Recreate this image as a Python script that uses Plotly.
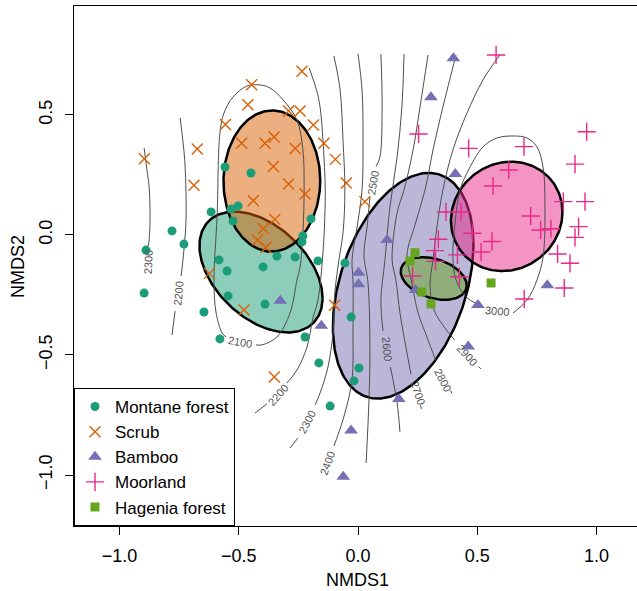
import numpy as np
import plotly.graph_objects as go

# ---------------- site scores (NMDS1, NMDS2) ----------------
montane_x = [-0.558, -0.449, -0.616, -0.532, -0.503, -0.524, -0.780, -0.730, -0.889, -0.897,
             -0.197, -0.231, -0.235, -0.340, -0.264, -0.168, -0.398, -0.583, -0.549, -0.055,
             -0.545, -0.390, -0.646, -0.029, -0.579, -0.222, -0.164, -0.117, 0.004, -0.017]
montane_y = [0.283, 0.258, 0.096, 0.108, 0.121, 0.058, 0.017, -0.038, -0.063, -0.242,
             0.067, -0.004, -0.029, -0.088, -0.092, -0.108, -0.133, -0.104, -0.150, -0.117,
             -0.254, -0.288, -0.321, -0.342, -0.433, -0.425, -0.533, -0.713, -0.554, -0.608]

scrub_x = [-0.235, -0.446, -0.462, -0.291, -0.243, -0.556, -0.187, -0.488, -0.390, -0.352,
           -0.263, -0.143, -0.674, -0.896, -0.095, -0.355, -0.688, -0.291, -0.222, -0.049,
           0.029, -0.439, -0.349, -0.397, -0.421, -0.386, -0.623, -0.478, -0.098, -0.351]
scrub_y = [0.682, 0.626, 0.543, 0.517, 0.517, 0.460, 0.458, 0.382, 0.382, 0.408,
           0.360, 0.382, 0.358, 0.318, 0.315, 0.285, 0.207, 0.2125, 0.171, 0.217,
           0.139, 0.143, 0.065, 0.027, -0.021, -0.052, -0.160, -0.3125, -0.293, -0.592]

bamboo_x = [0.400, 0.306, 0.408, 0.122, 0.002, 0.002, 0.794, -0.326, -0.154, 0.503,
            0.462, 0.171, -0.029, -0.062, 0.241]
bamboo_y = [0.736, 0.574, 0.254, -0.021, -0.157, -0.205, -0.209, -0.274, -0.378, -0.292,
            -0.465, -0.683, -0.815, -1.007, -0.229]

moor_x = [0.579, 0.254, 0.464, 0.696, 0.959, 0.910, 0.632, 0.566, 0.861, 0.952,
          0.369, 0.432, 0.724, 0.480, 0.766, 0.809, 0.925, 0.910, 0.562, 0.337,
          0.516, 0.322, 0.417, 0.837, 0.889, 0.325, 0.229, 0.425, 0.865, 0.697]
moor_y = [0.750, 0.421, 0.361, 0.368, 0.430, 0.295, 0.271, 0.204, 0.139, 0.139,
          0.096, 0.096, 0.079, 0.007, 0.021, 0.026, 0.035, -0.010, -0.027, -0.018,
          -0.071, -0.065, -0.083, -0.079, -0.118, -0.110, -0.171, -0.174, -0.221, -0.267]

hagenia_x = [0.239, 0.218, 0.267, 0.306, 0.558]
hagenia_y = [-0.074, -0.108, -0.2375, -0.2875, -0.200]

groups = ["Montane forest", "Scrub", "Bamboo", "Moorland", "Hagenia forest"]

# ---------------- fitted elevation surface: contour paths ----------------
c2300a_x = [-0.897, -0.885, -0.876, -0.872, -0.876, -0.880]
c2300a_y = [0.3625, 0.271, 0.200, 0.075, -0.021, -0.046]
c2200a_x = [-0.746, -0.733, -0.725, -0.721, -0.730, -0.742, None, -0.767, -0.780]
c2200a_y = [0.488, 0.380, 0.283, 0.075, -0.063, -0.171, None, -0.317, -0.417]
c2100_x = [-0.428, -0.403, -0.340, -0.285, -0.256, -0.243, -0.231, -0.226, -0.231, -0.256,
           -0.314, -0.369, -0.411, -0.465, -0.524, -0.562, -0.579, -0.591, -0.604, -0.595,
           -0.570, -0.553]
c2100_y = [-0.458, -0.458, -0.425, -0.325, -0.1875, -0.133, 0.008, 0.200, 0.354, 0.479,
           0.5625, 0.6125, 0.625, 0.621, 0.575, 0.508, 0.425, 0.075, -0.1875, -0.325,
           -0.408, -0.425]
c2200b_x = [-0.205, -0.174, -0.159, -0.147, -0.138, -0.138, -0.147, -0.168, -0.189, -0.214,
            -0.256, -0.298, None, -0.382, -0.432]
c2200b_y = [0.696, 0.604, 0.533, 0.396, 0.217, 0.117, -0.075, -0.271, -0.346, -0.467,
            -0.5625, -0.617, None, -0.704, -0.742]
c2300b_x = [-0.101, -0.075, -0.063, -0.055, -0.063, -0.080, -0.096, -0.105, -0.126, -0.159,
            -0.180, None, -0.252, -0.285]
c2300b_y = [0.746, 0.604, 0.396, 0.1875, 0.008, -0.104, -0.229, -0.408, -0.550, -0.658,
            -0.708, None, -0.846, -0.8875]
c2400_x = [0.0, 0.017, 0.021, 0.017, -0.004, -0.025, -0.021, -0.021, -0.025, -0.055, -0.084, -0.101]
c2400_y = [0.754, 0.604, 0.396, 0.1875, 0.033, -0.104, -0.1875, -0.396, -0.604, -0.742, -0.833, -0.879]
c2500_x = [0.096, 0.101, 0.092, 0.0755, None, 0.050, 0.038, 0.025, 0.042, 0.050, 0.046, 0.034]
c2500_y = [0.754, 0.533, 0.325, 0.285, None, 0.160, 0.033, -0.083, -0.200, -0.479, -0.6875, -0.950]
c2600_x = [0.193, 0.184, 0.164, 0.134, 0.113, 0.096, 0.105, None, 0.136, 0.164, 0.176]
c2600_y = [0.754, 0.533, 0.325, 0.117, -0.104, -0.271, -0.400, None, -0.550, -0.700, -0.821]
c2700_x = [0.2935, 0.260, 0.231, 0.193, 0.164, 0.143, 0.159, 0.176, 0.201, 0.222, None, 0.262, 0.266]
c2700_y = [0.750, 0.533, 0.354, 0.1875, 0.092, -0.104, -0.1875, -0.325, -0.467, -0.580, None, -0.710, -0.725]
c2800_x = [0.411, 0.356, 0.3145, 0.281, 0.239, 0.2055, 0.226, 0.252, 0.289, 0.325, None, 0.388, 0.394]
c2800_y = [0.750, 0.533, 0.354, 0.1875, 0.042, -0.083, -0.200, -0.325, -0.425, -0.520, None, -0.648, -0.660]
c2900_x = [0.595, 0.524, 0.457, 0.398, 0.356, 0.331, 0.3145, 0.302, 0.319, 0.361, 0.405, None, 0.505, 0.516]
c2900_y = [0.750, 0.646, 0.508, 0.354, 0.1875, 0.033, -0.104, -0.208, -0.3125, -0.383, -0.437, None, -0.548, -0.558]
c3000_x = [0.650, 0.709, 0.7505, 0.776, 0.784, 0.776, 0.7505, 0.709, 0.650, 0.583, 0.524,
           0.457, 0.428, 0.407, 0.398, 0.411, 0.453, 0.499]
c3000_y = [-0.325, -0.271, -0.1875, -0.092, 0.117, 0.283, 0.367, 0.404, 0.4125, 0.404, 0.367,
           0.258, 0.1875, 0.050, -0.092, -0.1875, -0.258, -0.2875]

contour_levels = [2300, 2200, 2100, 2200, 2300, 2400, 2500, 2600, 2700, 2800, 2900, 3000]
contour_paths = [(c2300a_x, c2300a_y), (c2200a_x, c2200a_y), (c2100_x, c2100_y),
                 (c2200b_x, c2200b_y), (c2300b_x, c2300b_y), (c2400_x, c2400_y),
                 (c2500_x, c2500_y), (c2600_x, c2600_y), (c2700_x, c2700_y),
                 (c2800_x, c2800_y), (c2900_x, c2900_y), (c3000_x, c3000_y)]
label_x = [-0.880, -0.755, -0.495, -0.335, -0.214, -0.128, 0.063, 0.122, 0.252, 0.356, 0.457, 0.583]
label_y = [-0.1125, -0.244, -0.446, -0.667, -0.779, -0.950, 0.217, -0.475, -0.658, -0.604, -0.500, -0.317]
label_angle = [-88, -85, 10, -48, -62, -70, -80, 85, 72, 62, 48, 5]

# ---------------- styles ----------------
cols = ["#1B9E77", "#D95F02", "#7570B3", "#E7298A", "#66A61E"]
fills = ["rgba(27,158,119,0.5)", "rgba(217,95,2,0.5)", "rgba(117,112,179,0.5)",
         "rgba(231,41,138,0.5)", "rgba(102,166,30,0.5)"]
symbols = ["circle", "x-thin-open", "triangle-up", "cross-thin-open", "square"]
sizes = [9, 11, 12, 13, 9]
FONT = "Liberation Sans, Arial, sans-serif"
CGRAY = "#4d4d4d"

gx = [montane_x, scrub_x, bamboo_x, moor_x, hagenia_x]
gy = [montane_y, scrub_y, bamboo_y, moor_y, hagenia_y]


def sd_ellipse(x, y, n=240):
    x = np.asarray(x, float)
    y = np.asarray(y, float)
    cov = np.cov(np.vstack([x, y]))
    L = np.linalg.cholesky(cov)
    t = np.linspace(0, 2 * np.pi, n)
    p = L @ np.vstack([np.cos(t), np.sin(t)])
    return x.mean() + p[0], y.mean() + p[1]


fig = go.Figure()

# ellipses (1 sd)
for i in range(5):
    ex, ey = sd_ellipse(gx[i], gy[i])
    fig.add_trace(go.Scatter(x=ex, y=ey, mode="lines", fill="toself", fillcolor=fills[i],
                             line=dict(color="black", width=2.5), hoverinfo="skip",
                             showlegend=False))

# contours
for (cx, cy), lev in zip(contour_paths, contour_levels):
    fig.add_trace(go.Scatter(x=cx, y=cy, mode="lines", line=dict(color=CGRAY, width=1,
                             shape="spline", smoothing=1.0), connectgaps=False,
                             hoverinfo="skip", showlegend=False, name=str(lev)))

# points
for i in range(5):
    if "open" in symbols[i]:
        mk = dict(symbol=symbols[i], size=sizes[i], color=cols[i], line=dict(color=cols[i], width=1.4))
    else:
        mk = dict(symbol=symbols[i], size=sizes[i], color=cols[i], line=dict(width=0))
    fig.add_trace(go.Scatter(x=gx[i], y=gy[i], mode="markers", marker=mk, name=groups[i]))

annotations = []
for lx, ly, la, lev in zip(label_x, label_y, label_angle, contour_levels):
    annotations.append(dict(x=lx, y=ly, xref="x", yref="y", text=str(lev), showarrow=False,
                            textangle=la, font=dict(family=FONT, size=11, color="#555555"),
                            xanchor="center", yanchor="middle"))
annotations.append(dict(x=-0.004, y=-0.104, xref="x", yref="paper", text="NMDS1", showarrow=False,
                        font=dict(family=FONT, size=18, color="black"), xanchor="center", yanchor="middle"))
annotations.append(dict(x=-0.0995, y=-0.129, xref="paper", yref="y", text="NMDS2", showarrow=False,
                        textangle=-90, font=dict(family=FONT, size=18, color="black"),
                        xanchor="center", yanchor="middle"))

xt = [-1.0, -0.5, 0.0, 0.5, 1.0]
yt = [-1.0, -0.5, 0.0, 0.5]

fig.update_layout(
    width=637, height=591,
    margin=dict(l=74, r=0, t=6, b=65),
    paper_bgcolor="white", plot_bgcolor="white",
    font=dict(family=FONT, color="black"),
    showlegend=True,
    legend=dict(x=0, y=0, xanchor="left", yanchor="bottom", bgcolor="white",
                bordercolor="black", borderwidth=1, font=dict(family=FONT, size=17),
                tracegroupgap=0, itemwidth=30),
    annotations=annotations,
    xaxis=dict(range=[-1.191, 1.170], showgrid=False, zeroline=False, showline=True,
               linecolor="black", linewidth=1.2, mirror=True, ticks="outside", ticklen=8,
               tickwidth=1, tickcolor="black", tickvals=xt,
               ticktext=["\u22121.0", "\u22120.5", "0.0", "0.5", "1.0"],
               tickfont=dict(family=FONT, size=18), ticklabelstandoff=5),
    yaxis=dict(range=[-1.2125, 0.954], showgrid=False, zeroline=False, showline=True,
               linecolor="black", linewidth=1.2, mirror=False, ticks="outside", ticklen=8,
               tickwidth=1, tickcolor="black", tickvals=yt,
               ticktext=["\u22121.0", "\u22120.5", "0.0", "0.5"], tickangle=-90,
               tickfont=dict(family=FONT, size=18), ticklabelstandoff=6),
)

fig.write_html("out.html", config={"displayModeBar": False},
               post_script="document.body.style.margin='0';document.body.style.padding='0';")
